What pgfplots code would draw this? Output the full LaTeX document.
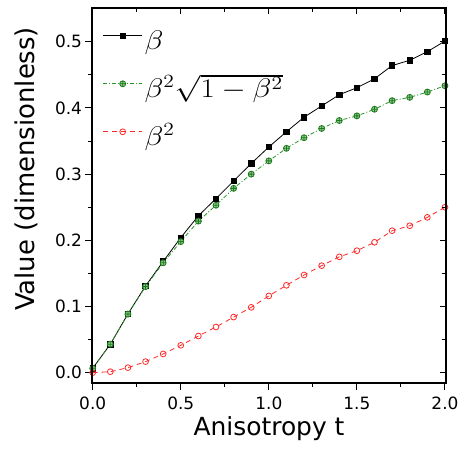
\documentclass[border=0pt]{standalone}
\usepackage{graphicx}
\usepackage{fontspec}
\setmainfont{DejaVu Sans}
\usepackage{pgfplots}
\pgfplotsset{compat=1.18}
\usetikzlibrary{plotmarks}

\definecolor{gline}{RGB}{40,150,40}
\definecolor{gfill}{RGB}{140,210,140}
\definecolor{rline}{RGB}{255,40,40}
\newcommand{\legtxt}[1]{\rule[-17bp]{0pt}{45bp}\scalebox{1.5}[1.3]{#1}}

\pgfplotstableread{
t    beta    bsq     bsqrt
0.0  0.0066  0.0000  0.0066
0.1  0.0430  0.0015  0.0430
0.2  0.0887  0.0076  0.0885
0.3  0.1310  0.0167  0.1300
0.4  0.1680  0.0283  0.1660
0.5  0.2040  0.0413  0.1980
0.6  0.2370  0.0554  0.2290
0.7  0.2630  0.0690  0.2530
0.8  0.2896  0.0840  0.2785
0.9  0.3160  0.0987  0.3000
1.0  0.3410  0.1160  0.3200
1.1  0.3640  0.1320  0.3390
1.2  0.3860  0.1476  0.3550
1.3  0.4030  0.1617  0.3690
1.4  0.4200  0.1750  0.3810
1.5  0.4305  0.1843  0.3880
1.6  0.4440  0.1970  0.3980
1.7  0.4640  0.2145  0.4110
1.8  0.4720  0.2220  0.4160
1.9  0.4850  0.2347  0.4240
2.0  0.5010  0.2500  0.4335
}\datatable

\begin{document}
\begin{tikzpicture}
\path[use as bounding box] (-92bp,-66bp) rectangle (379bp,383bp);
\pgfplotsset{
  myaxis/.style={
    scale only axis,
    width=354bp, height=375bp,
    xmin=-0.004, xmax=2.006,
    ymin=-0.0156, ymax=0.551,
    xtick={0,0.5,...,2.0},
    ytick={0,0.1,...,0.5},
    minor x tick num=1,
    minor y tick num=1,
    major tick length=6.5bp,
    minor tick length=4bp,
    axis line style={line width=1.1bp},
    every tick/.style={line width=0.9bp, black},
  }
}
\begin{axis}[
  myaxis,
  tick align=outside,
  xtick pos=bottom, ytick pos=left,
  /pgf/number format/assume math mode=true,
  /pgf/number format/fixed,
  /pgf/number format/fixed zerofill,
  /pgf/number format/precision=1,
  ticklabel style={font=\fontsize{17}{17}\selectfont},
  xticklabel style={yshift=-4bp},
  xlabel={Anisotropy t},
  ylabel={Value (dimensionless)},
  xlabel style={font=\fontsize{25}{25}\selectfont, at={(axis description cs:0.5,-0.141)}, anchor=base},
  ylabel style={font=\fontsize{26}{26}\selectfont, at={(axis description cs:-0.185,0.571)}, anchor=center},
  legend style={draw=none, fill=none, at={(axis description cs:0.03,0.971)}, anchor=north west,
    font=\fontsize{20}{20}\selectfont, row sep=14.5bp, inner sep=0pt},
  legend cell align=left,
  legend image code/.code={
    \draw[mark repeat=2, mark phase=2, #1] plot coordinates {(0bp,0bp) (19.5bp,0bp) (39bp,0bp)};
  },
]
\addplot[black, line width=0.8bp, mark=square*, mark size=2.7bp, mark options={solid}]
  table[x=t, y=beta] {\datatable};
\addlegendentry{\legtxt{$\beta$}}
\addplot[gline, line width=0.8bp, dash pattern=on 4bp off 2bp on 1bp off 2bp,
  mark=oplus*, mark size=3bp, mark options={solid, draw=gline!80!black, fill=gfill}]
  table[x=t, y=bsqrt] {\datatable};
\addlegendentry{\legtxt{$\beta^2\sqrt{1-\beta^2}$}}
\addplot[rline, line width=0.8bp, dash pattern=on 5bp off 4bp,
  mark=o, mark size=2.9bp, mark options={solid, fill=white}]
  table[x=t, y=bsq] {\datatable};
\addlegendentry{\legtxt{$\beta^2$}}
\end{axis}
\begin{axis}[
  myaxis,
  tick align=inside,
  xtick pos=top, ytick pos=right,
  xticklabels={}, yticklabels={},
]
\end{axis}
\end{tikzpicture}
\end{document}
